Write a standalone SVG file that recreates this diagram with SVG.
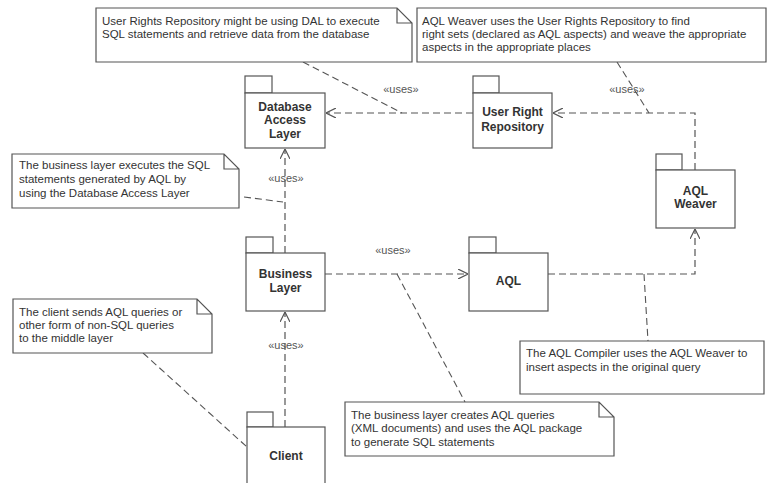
<svg xmlns="http://www.w3.org/2000/svg" width="768" height="483" viewBox="0 0 768 483">
<defs>
<style>
.note{fill:#fff;stroke:#555;stroke-width:1.2}
.pkg{fill:#fff;stroke:#555;stroke-width:1.2}
.nt{font-family:"Liberation Sans",Arial,sans-serif;font-size:11.5px;fill:#333}
.pt{font-family:"Liberation Sans",Arial,sans-serif;font-size:12px;font-weight:bold;fill:#333;text-anchor:middle}
.lb{font-family:"Liberation Sans",Arial,sans-serif;font-size:11px;fill:#555;text-anchor:middle}
.dep{fill:none;stroke:#555;stroke-width:1.2;stroke-dasharray:7 4}
.anc{fill:none;stroke:#555;stroke-width:1.1;stroke-dasharray:7 4}
</style>
<marker id="open" viewBox="0 0 10 10" refX="10" refY="5" markerWidth="10" markerHeight="10" orient="auto" markerUnits="userSpaceOnUse">
<path d="M0,0 L10,5 L0,10" fill="none" stroke="#555" stroke-width="1.2"/>
</marker>
</defs>
<rect width="768" height="483" fill="#fff"/>

<g id="connectors">
<path class="dep" d="M473,113 H326" marker-end="url(#open)"/>
<path class="dep" d="M695,170 V113 H553" marker-end="url(#open)"/>
<path class="dep" d="M285,253 V149" marker-end="url(#open)"/>
<path class="dep" d="M325,274 H468" marker-end="url(#open)"/>
<path class="dep" d="M548,274 H695 V229" marker-end="url(#open)"/>
<path class="dep" d="M285,427 V312" marker-end="url(#open)"/>
<path class="anc" d="M303,62 L402,113"/>
<path class="anc" d="M617,62 L649,113"/>
<path class="anc" d="M244,197 L283,202"/>
<path class="anc" d="M143,353 L247,447"/>
<path class="anc" d="M644,274 L648,341"/>
<path class="anc" d="M397,274 L465,402"/>
<text class="lb" x="401" y="93">«uses»</text>
<text class="lb" x="627" y="93">«uses»</text>
<text class="lb" x="286" y="182">«uses»</text>
<text class="lb" x="393" y="254">«uses»</text>
<text class="lb" x="286" y="349">«uses»</text>
</g>

<g id="note-dal">
<path class="note" d="M96,8 H397 L412,23 V62 H96 Z M397,8 V23 H412"/>
<text class="nt" x="102" y="25">User Rights Repository might be using DAL to execute</text>
<text class="nt" x="102" y="38">SQL statements and retrieve data from the database</text>
</g>

<g id="note-weaver">
<path class="note" d="M417,8 H766 V62 H417 Z"/>
<text class="nt" x="422" y="25">AQL Weaver uses the User Rights Repository to find</text>
<text class="nt" x="422" y="38">right sets (declared as AQL aspects) and weave the appropriate</text>
<text class="nt" x="422" y="51">aspects in the appropriate places</text>
</g>

<g id="note-business-exec">
<path class="note" d="M12,154 H224 L239,169 V208 H12 Z M224,154 V169 H239"/>
<text class="nt" x="19" y="169">The business layer executes the SQL</text>
<text class="nt" x="19" y="183">statements generated by AQL by</text>
<text class="nt" x="19" y="197">using the Database Access Layer</text>
</g>

<g id="note-client">
<path class="note" d="M13,299 H197 L212,314 V353 H13 Z M197,299 V314 H212"/>
<text class="nt" x="19" y="316">The client sends AQL queries or</text>
<text class="nt" x="19" y="329">other form of non-SQL queries</text>
<text class="nt" x="19" y="342">to the middle layer</text>
</g>

<g id="note-compiler">
<path class="note" d="M520,341 H764 V394 H520 Z"/>
<text class="nt" x="526" y="357">The AQL Compiler uses the AQL Weaver to</text>
<text class="nt" x="526" y="371">insert aspects in the original query</text>
</g>

<g id="note-business-create">
<path class="note" d="M345,402 H599 L614,417 V456 H345 Z M599,402 V417 H614"/>
<text class="nt" x="351" y="419">The business layer creates AQL queries</text>
<text class="nt" x="351" y="432">(XML documents) and uses the AQL package</text>
<text class="nt" x="351" y="446">to generate SQL statements</text>
</g>

<g id="pkg-dal">
<rect class="pkg" x="245" y="76" width="27" height="17"/>
<rect class="pkg" x="245" y="93" width="80" height="55"/>
<text class="pt" x="285" y="111">Database</text>
<text class="pt" x="285" y="124">Access</text>
<text class="pt" x="285" y="138">Layer</text>
</g>

<g id="pkg-urr">
<rect class="pkg" x="473" y="76" width="26" height="17"/>
<rect class="pkg" x="473" y="93" width="79" height="55"/>
<text class="pt" x="512.5" y="116">User Right</text>
<text class="pt" x="512.5" y="131">Repository</text>
</g>

<g id="pkg-weaver">
<rect class="pkg" x="656" y="154" width="26" height="16"/>
<rect class="pkg" x="656" y="170" width="79" height="58"/>
<text class="pt" x="695.5" y="195">AQL</text>
<text class="pt" x="695.5" y="208">Weaver</text>
</g>

<g id="pkg-aql">
<rect class="pkg" x="469" y="237" width="27" height="16"/>
<rect class="pkg" x="469" y="253" width="79" height="58"/>
<text class="pt" x="508.5" y="285">AQL</text>
</g>

<g id="pkg-business">
<rect class="pkg" x="246" y="237" width="27" height="16"/>
<rect class="pkg" x="246" y="253" width="79" height="58"/>
<text class="pt" x="285.5" y="278">Business</text>
<text class="pt" x="285.5" y="292">Layer</text>
</g>

<g id="pkg-client">
<rect class="pkg" x="247" y="412" width="26" height="15"/>
<rect class="pkg" x="247" y="427" width="78" height="70"/>
<text class="pt" x="286" y="460">Client</text>
</g>
</svg>
